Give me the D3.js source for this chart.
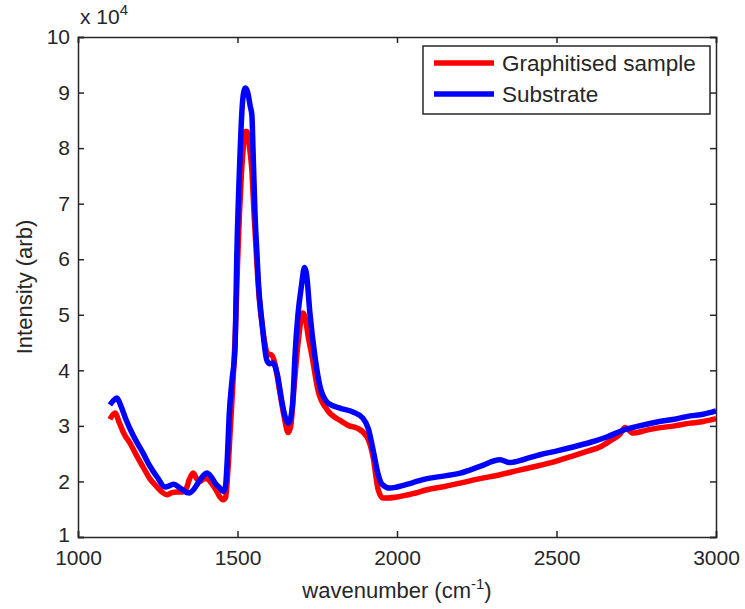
<!DOCTYPE html>
<html>
<head>
<meta charset="utf-8">
<script src="https://cdn.jsdelivr.net/npm/d3@7"></script>
<style>
  body { margin: 0; background: #fff; }
  svg text { font-family: "Liberation Sans", Arial, sans-serif; fill: #262626; }
</style>
</head>
<body>
<div id="chart"></div>
<script>
// Dados (intensidade em unidades de 10^4)
var substrateWn = [1100, 1110, 1122, 1135, 1150, 1172, 1190, 1204, 1225, 1248, 1273, 1290, 1300, 1320, 1348, 1362, 1376, 1392, 1404, 1418, 1430, 1445, 1455, 1462, 1468, 1474, 1483, 1492, 1498, 1508, 1514, 1520, 1525, 1532, 1540, 1545, 1549, 1555, 1561, 1565, 1577, 1592, 1600, 1611, 1624, 1640, 1650, 1659, 1667, 1674, 1680, 1690, 1700, 1710, 1716, 1727, 1743, 1759, 1784, 1821, 1862, 1893, 1910, 1925, 1940, 1953, 1978, 2000, 2050, 2094, 2150, 2198, 2260, 2323, 2354, 2400, 2448, 2502, 2552, 2610, 2658, 2708, 2760, 2815, 2870, 2919, 2960, 3000];
var substrateVal = [3.38, 3.45, 3.50, 3.35, 3.12, 2.84, 2.65, 2.51, 2.28, 2.08, 1.90, 1.93, 1.95, 1.88, 1.79, 1.85, 1.97, 2.10, 2.15, 2.08, 1.97, 1.88, 1.82, 1.90, 2.40, 3.20, 3.83, 4.37, 6.10, 7.90, 8.68, 9.02, 9.08, 9.00, 8.75, 8.60, 7.90, 6.80, 6.10, 5.63, 4.85, 4.18, 4.12, 4.13, 3.95, 3.41, 3.15, 3.05, 3.15, 3.50, 4.24, 5.03, 5.50, 5.85, 5.75, 5.03, 4.24, 3.70, 3.41, 3.32, 3.25, 3.14, 2.95, 2.57, 2.15, 1.95, 1.88, 1.90, 1.98, 2.05, 2.10, 2.15, 2.27, 2.39, 2.34, 2.40, 2.48, 2.55, 2.62, 2.71, 2.80, 2.92, 3.00, 3.07, 3.12, 3.18, 3.21, 3.27];

var sampleWn = [1100, 1116, 1130, 1145, 1163, 1185, 1204, 1225, 1248, 1265, 1279, 1295, 1310, 1329, 1340, 1350, 1361, 1372, 1382, 1395, 1404, 1418, 1432, 1445, 1455, 1463, 1470, 1478, 1486, 1494, 1500, 1506, 1512, 1518, 1524, 1530, 1538, 1545, 1552, 1561, 1568, 1580, 1595, 1608, 1618, 1630, 1645, 1659, 1667, 1676, 1690, 1705, 1712, 1722, 1734, 1752, 1781, 1821, 1850, 1875, 1906, 1925, 1941, 1956, 1969, 2000, 2050, 2094, 2150, 2198, 2260, 2323, 2380, 2426, 2502, 2552, 2600, 2636, 2668, 2699, 2715, 2740, 2780, 2815, 2870, 2919, 2960, 3000];
var sampleVal = [3.12, 3.23, 3.05, 2.85, 2.69, 2.45, 2.26, 2.05, 1.90, 1.80, 1.76, 1.80, 1.81, 1.81, 1.88, 2.05, 2.15, 2.05, 2.00, 2.05, 2.05, 1.97, 1.85, 1.72, 1.67, 1.72, 2.20, 3.00, 3.80, 4.80, 5.90, 6.80, 7.50, 8.00, 8.30, 8.30, 8.00, 7.60, 6.80, 5.90, 5.30, 4.70, 4.30, 4.27, 4.10, 3.70, 3.20, 2.88, 3.00, 3.60, 4.50, 5.03, 4.95, 4.60, 4.24, 3.65, 3.29, 3.10, 3.00, 2.96, 2.80, 2.44, 1.85, 1.70, 1.70, 1.72, 1.78, 1.85, 1.91, 1.97, 2.05, 2.12, 2.20, 2.26, 2.37, 2.46, 2.55, 2.62, 2.73, 2.85, 2.97, 2.87, 2.92, 2.96, 3.00, 3.05, 3.08, 3.13];

var xTicks = [1000, 1500, 2000, 2500, 3000];
var yTicks = [1, 2, 3, 4, 5, 6, 7, 8, 9, 10];
var seriesNames = ["Graphitised sample", "Substrate"];
var seriesColors = ["#ff0000", "#0000ff"];

// SVG
var W = 745, H = 609;
var margin = { top: 37, right: 29, bottom: 72, left: 78 };
var width = W - margin.left - margin.right;
var height = H - margin.top - margin.bottom;

var svg = d3.select("#chart").append("svg")
    .attr("width", W)
    .attr("height", H)
    .append("g")
    .attr("transform", "translate(" + margin.left + "," + margin.top + ")");

var xScale = d3.scaleLinear().domain([1000, 3000]).range([0, width]);
var yScale = d3.scaleLinear().domain([1, 10]).range([height, 0]);

var fs = 21;       // ticks
var fsLabel = 22;  // rotulos dos eixos
var fsLeg = 22.5;  // legenda
var tickLen = 6;
var axisColor = "#262626";

// Curvas (vermelho primeiro, azul por cima)
var line = d3.line()
    .x(function(d) { return xScale(d[0]); })
    .y(function(d) { return yScale(d[1]); })
    .curve(d3.curveMonotoneX);

var series = [
    d3.zip(sampleWn, sampleVal),
    d3.zip(substrateWn, substrateVal)
];

svg.selectAll(".serie")
    .data(series)
    .enter()
    .append("path")
    .attr("class", "serie")
    .attr("d", line)
    .attr("fill", "none")
    .attr("stroke", function(d, i) { return seriesColors[i]; })
    .attr("stroke-width", 5.5)
    .attr("stroke-linejoin", "round");

// Eixos estilo MATLAB (ticks para dentro, nos quatro lados)
svg.append("g")
    .attr("transform", "translate(0," + height + ")")
    .call(d3.axisBottom(xScale).tickValues(xTicks).tickSize(-tickLen).tickPadding(13).tickFormat(d3.format("d")));
svg.append("g")
    .call(d3.axisTop(xScale).tickValues(xTicks).tickSize(-tickLen).tickFormat(""));
var yAxisG = svg.append("g")
    .call(d3.axisLeft(yScale).tickValues(yTicks).tickSize(-tickLen).tickPadding(8).tickFormat(d3.format("d")));
svg.append("g")
    .attr("transform", "translate(" + width + ",0)")
    .call(d3.axisRight(yScale).tickValues(yTicks).tickSize(-tickLen).tickFormat(""));

svg.selectAll(".domain").attr("stroke", axisColor).attr("stroke-width", 1.5);
svg.selectAll(".tick line").attr("stroke", axisColor).attr("stroke-width", 1.5);
svg.selectAll(".tick text")
    .attr("font-size", fs)
    .attr("font-family", "Liberation Sans, Arial, sans-serif")
    .attr("fill", axisColor);

// o "1" sobe um pouco para nao encostar no "1000"
yAxisG.selectAll(".tick text")
    .filter(function(d) { return d === 1; })
    .attr("y", -2.5);

// Multiplicador
var mult = svg.append("text")
    .attr("x", 2)
    .attr("y", -13)
    .attr("font-size", fs);
mult.append("tspan").text("x 10");
mult.append("tspan").attr("font-size", 15).attr("dy", -9).text("4");

// Rotulos dos eixos
var xl = svg.append("text")
    .attr("x", width / 2)
    .attr("y", height + 61)
    .attr("text-anchor", "middle")
    .attr("font-size", fsLabel);
xl.append("tspan").text("wavenumber (cm");
xl.append("tspan").attr("font-size", 15).attr("dy", -9).text("-1");
xl.append("tspan").attr("dy", 9).text(")");

svg.append("text")
    .attr("transform", "translate(" + (-46) + "," + (height / 2) + ") rotate(-90)")
    .attr("text-anchor", "middle")
    .attr("font-size", fsLabel)
    .text("Intensity (arb)");

// Legenda
var leg = svg.append("g").attr("transform", "translate(" + (423 - margin.left) + "," + (46 - margin.top) + ")");
leg.append("rect")
    .attr("width", 287)
    .attr("height", 68)
    .attr("fill", "#fff")
    .attr("stroke", axisColor)
    .attr("stroke-width", 1.5);

var items = leg.selectAll(".item")
    .data(seriesNames)
    .enter()
    .append("g")
    .attr("class", "item")
    .attr("transform", function(d, i) { return "translate(0," + (17 + i * 31) + ")"; });

items.append("line")
    .attr("x1", 11)
    .attr("x2", 71)
    .attr("stroke", function(d, i) { return seriesColors[i]; })
    .attr("stroke-width", 5.5);

items.append("text")
    .attr("x", 79)
    .attr("dy", "0.35em")
    .attr("font-size", fsLeg)
    .text(function(d) { return d; });
</script>
</body>
</html>
